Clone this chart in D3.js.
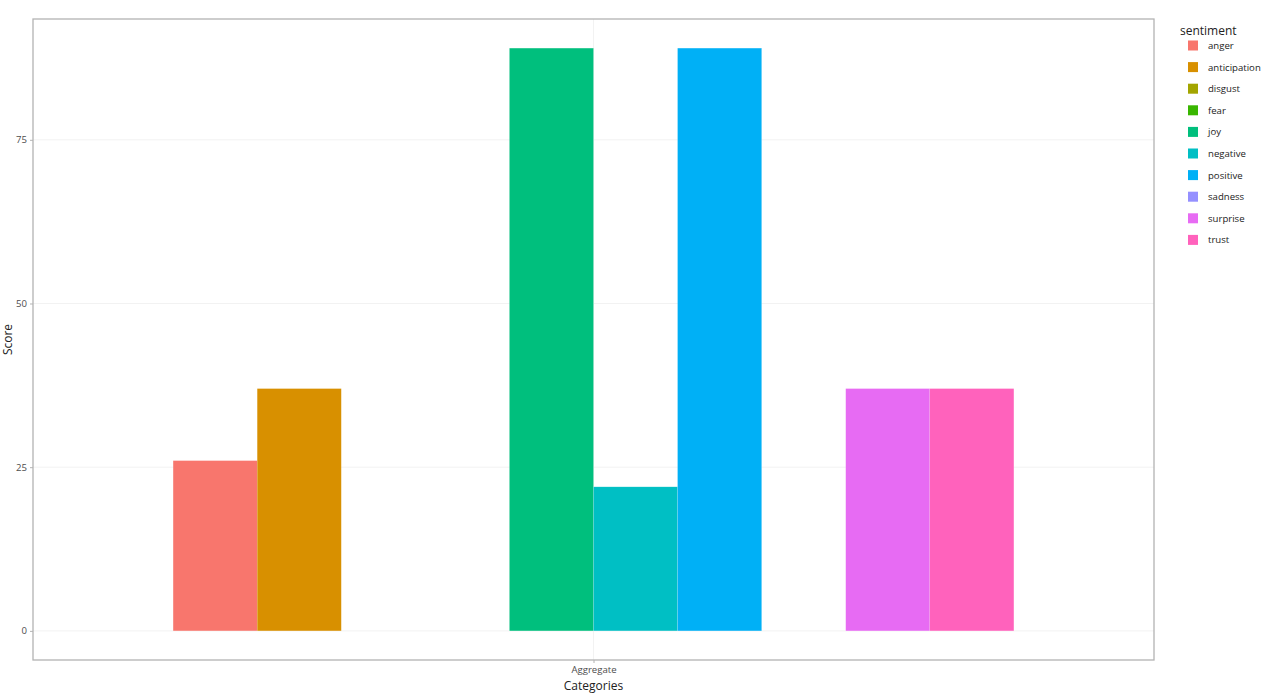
<!DOCTYPE html>
<html><head><meta charset="utf-8">
<script src="https://cdn.jsdelivr.net/npm/d3@7"></script>
<style>body{margin:0;background:#fff;font-family:"Open Sans",sans-serif;}</style>
</head><body><svg id="c" width="1269" height="693"></svg>
<script>
const categories = ["Aggregate"];
const sentiments = ["anger","anticipation","disgust","fear","joy","negative","positive","sadness","surprise","trust"];
const scores = [26,37,0,0,89,22,89,0,37,37];
const colors = ["#F8766D","#D89000","#A3A500","#39B600","#00BF7D","#00BFC4","#00B0F6","#9590FF","#E76BF3","#FF62BC"];
const yTicks = [0,25,50,75];

const svg = d3.select("#c");
const L=33, R=1154, T=19, B=660;
const maxV = d3.max(scores);
const y = d3.scaleLinear().domain([-maxV*0.05, maxV*1.05]).range([B,T]);
const xc = d3.scaleLinear().domain([0.4,1.6]).range([L,R]);
const xi = d3.scaleBand().domain(sentiments).range([xc(1-0.45), xc(1+0.45)]).padding(0);

svg.append("g").selectAll("line").data(yTicks).join("line")
  .attr("x1",L).attr("x2",R).attr("y1",d=>y(d)).attr("y2",d=>y(d))
  .attr("stroke","#f2f2f2").attr("stroke-width",1);
svg.append("line").attr("x1",xc(1)).attr("x2",xc(1)).attr("y1",T).attr("y2",B)
  .attr("stroke","#f2f2f2").attr("stroke-width",1);

svg.append("g").selectAll("rect").data(sentiments.map((s,i)=>({s,v:scores[i],c:colors[i]})).filter(d=>d.v>0))
  .join("rect")
  .attr("x",d=>xi(d.s)).attr("width",xi.bandwidth())
  .attr("y",d=>y(d.v)).attr("height",d=>y(0)-y(d.v))
  .attr("fill",d=>d.c).attr("stroke","rgba(255,255,255,0.25)").attr("stroke-width",0.5);

svg.append("rect").attr("x",L).attr("y",T).attr("width",R-L).attr("height",B-T)
  .attr("fill","none").attr("stroke","#b3b3b3").attr("stroke-width",1.3);

const yAxis = d3.axisLeft(y).tickValues(yTicks).tickSize(3).tickPadding(3);
const gy = svg.append("g").attr("transform",`translate(${L},0)`).call(yAxis);
gy.select(".domain").remove();
gy.selectAll(".tick line").attr("stroke","#b3b3b3");
gy.selectAll(".tick text").attr("fill","#4d4d4d").style("font-size","9.6px").style("font-family","Open Sans");

const xAxis = d3.axisBottom(d3.scaleOrdinal().domain(categories).range([xc(1)])).tickSize(3).tickPadding(3);
const gx = svg.append("g").attr("transform",`translate(0,${B})`).call(xAxis);
gx.select(".domain").remove();
gx.selectAll(".tick line").attr("stroke","#b3b3b3");
gx.selectAll(".tick text").attr("fill","#4d4d4d").style("font-size","9.6px").style("font-family","Open Sans");

svg.append("text").attr("x",(L+R)/2).attr("y",690).attr("text-anchor","middle")
  .style("font-size","12px").attr("fill","#222").text("Categories");
svg.append("text").attr("transform",`translate(12,${(T+B)/2}) rotate(-90)`).attr("text-anchor","middle")
  .style("font-size","12px").attr("fill","#222").text("Score");

const lg = svg.append("g");
lg.append("text").attr("x",1180).attr("y",35).style("font-size","12px").attr("fill","#222").text("sentiment");
const items = lg.selectAll("g.item").data(sentiments).join("g").attr("class","item")
  .attr("transform",(d,i)=>`translate(1188,${45.5+i*21.6})`);
items.append("rect").attr("x",0).attr("y",-5).attr("width",10).attr("height",10).attr("fill",(d,i)=>colors[i]);
items.append("text").attr("x",20).attr("y",3.5).style("font-size","9.6px").attr("fill","#222").text(d=>d);
</script></body></html>
